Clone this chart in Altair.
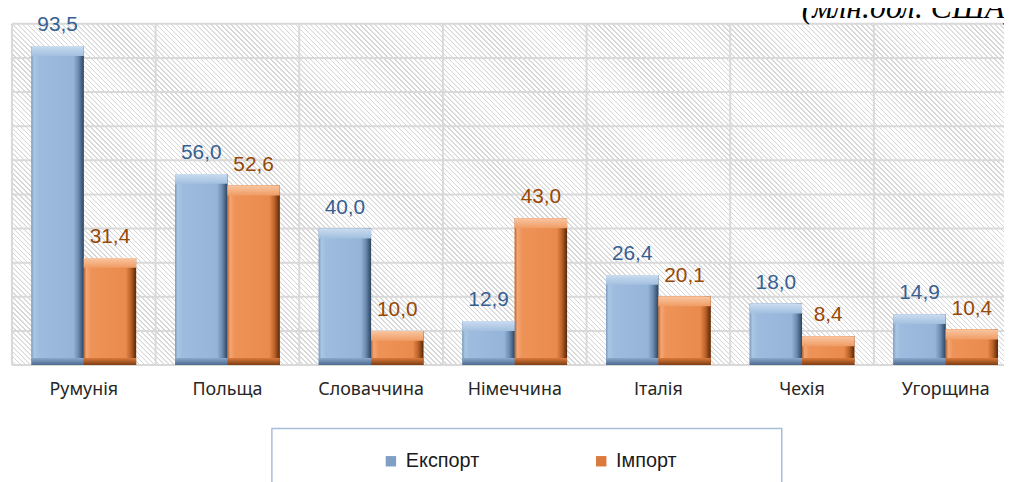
import altair as alt
import pandas as pd

# ---- data ----
countries = ["Румунія", "Польща", "Словаччина", "Німеччина", "Італія", "Чехія", "Угорщина"]
export_vals = [93.5, 56.0, 40.0, 12.9, 26.4, 18.0, 14.9]
import_vals = [31.4, 52.6, 10.0, 43.0, 20.1, 8.4, 10.4]
series = ["Експорт", "Імпорт"]
grid_vals = [0, 10, 20, 30, 40, 50, 60, 70, 80, 90, 100]
unit_note = "(млн.дол. США)"

rows = []
for c, e, i in zip(countries, export_vals, import_vals):
    rows.append({"country": c, "series": series[0], "value": e})
    rows.append({"country": c, "series": series[1], "value": i})
df = pd.DataFrame(rows)
one = pd.DataFrame({"k": [0]})

# ---- styles ----
PW, PH = 1000, 344          # visible plot area
XR = 1013.6                 # x range (last category runs past the window edge)
GRID = "#d9d9d9"

# diagonal hatch for the plot background, built as a striped linear gradient
span = PW + PH
period, stripe = 5.0, 1.5
hstops = []
b = 0.0
while b < span:
    for off, col in [(b, "#ffffff"), (b + period - stripe - 0.4, "#ffffff"),
                     (b + period - stripe, "#d6d6d6"), (b + period - 0.4, "#d6d6d6")]:
        hstops.append({"offset": min(off / span, 1.0), "color": col})
    b += period
k = span / (PW ** 2 + PH ** 2)
hatch_grad = {"gradient": "linear", "x1": 0, "y1": 1, "x2": k * PW, "y2": 1 - k * PH,
              "stops": hstops}


def grad(stops, vertical=False):
    return {"gradient": "linear", "x1": 0, "y1": 0,
            "x2": 0 if vertical else 1, "y2": 1 if vertical else 0,
            "stops": [{"offset": o, "color": c} for o, c in stops]}


blue_grad = grad([(0.0, "#7d9bbf"), (0.05, "#aac6e4"), (0.14, "#9dbcdf"),
                  (0.80, "#95b4d8"), (0.90, "#6a8ab0"), (1.0, "#2c4460")])
orange_grad = grad([(0.0, "#b5652e"), (0.05, "#f4a574"), (0.14, "#ee9358"),
                    (0.80, "#ea8a4d"), (0.90, "#bb6229"), (1.0, "#582808")])
blue_top = grad([(0.0, "#cadcf0"), (1.0, "#a2bfdf")], vertical=True)
orange_top = grad([(0.0, "#f9c6a2"), (1.0, "#f09c64")], vertical=True)
blue_bot = grad([(0.0, "#8aa8cc"), (1.0, "#4d6a8e")], vertical=True)
orange_bot = grad([(0.0, "#d9793b"), (1.0, "#7e3d12")], vertical=True)

xaxis = alt.Axis(title=None, domain=False, ticks=False, grid=False, labelAngle=0,
                 labelFont="Noto Sans", labelFontSize=18, labelColor="#262626",
                 labelPadding=16)
xscale = alt.Scale(range=[0, XR], paddingInner=0, paddingOuter=0, round=False)
yscale = alt.Scale(domain=[0, 100], nice=False, zero=True)

xenc = alt.X("country:N", sort=countries, scale=xscale, axis=xaxis)
yenc = alt.Y("value:Q", scale=yscale, axis=None)
xoff = alt.XOffset("series:N", sort=series,
                   scale=alt.Scale(paddingInner=0, paddingOuter=0.3725, round=False))
is_exp = alt.datum.series == series[0]

hatch = alt.Chart(one).mark_rect(fill=hatch_grad, strokeWidth=0).encode(
    x=alt.value(0), x2=alt.value(PW), y=alt.value(0), y2=alt.value(PH))

hgrid = alt.Chart(pd.DataFrame({"g": grid_vals})).mark_rule(
    color=GRID, strokeWidth=2).encode(y=alt.Y("g:Q", scale=yscale, axis=None))

vgrid = alt.Chart(pd.DataFrame({"country": countries})).mark_rule(
    color=GRID, strokeWidth=2).encode(
    x=alt.X("country:N", sort=countries, bandPosition=0, scale=xscale, axis=xaxis))

base = alt.Chart(df)

bars_legend = base.mark_bar().encode(
    x=xenc, xOffset=xoff, y=yenc,
    color=alt.Color("series:N", sort=series,
                    scale=alt.Scale(domain=series, range=["#7f9fc4", "#dc7a3e"]),
                    legend=alt.Legend(orient="none", legendX=372, legendY=431,
                                      direction="horizontal", columns=2, title=None,
                                      labelFont="Liberation Sans", labelFontSize=20,
                                      labelColor="#1a1a1a", symbolType="square",
                                      symbolSize=110, symbolStrokeWidth=0,
                                      columnPadding=112, labelOffset=5, padding=0)))

bars = base.mark_bar().encode(
    x=xenc, xOffset=xoff, y=yenc,
    fill=alt.condition(is_exp, alt.value(blue_grad), alt.value(orange_grad)))

bevel_top = base.mark_bar(y2Offset=10).encode(
    x=xenc, xOffset=xoff, y=yenc, y2=alt.Y2("value:Q"),
    fill=alt.condition(is_exp, alt.value(blue_top), alt.value(orange_top)))

bevel_bot = base.transform_calculate(zero="0").mark_bar(yOffset=-7).encode(
    x=xenc, xOffset=xoff, y=alt.Y("zero:Q", scale=yscale, axis=None),
    y2=alt.Y2("zero:Q"),
    fill=alt.condition(is_exp, alt.value(blue_bot), alt.value(orange_bot)))

labels = base.transform_calculate(
    label="replace(format(datum.value, '.1f'), '.', ',')"
).mark_text(font="Liberation Sans", fontSize=21, dy=-15, baseline="alphabetic",
            align="center").encode(
    x=xenc, xOffset=xoff, y=yenc, text="label:N",
    fill=alt.condition(is_exp, alt.value("#376092"), alt.value("#984807")))

note = alt.Chart(one).mark_text(
    text=unit_note, font="Liberation Serif", fontStyle="italic", fontSize=32,
    align="left", baseline="alphabetic", color="black").encode(
    x=alt.value(796), y=alt.value(-6))

legend_box = alt.Chart(one).mark_rect(
    fill="white", stroke="#a9bed8", strokeWidth=1.5).encode(
    x=alt.value(262), x2=alt.value(776), y=alt.value(408), y2=alt.value(480))

chart = alt.layer(hatch, hgrid, vgrid, bars_legend, bars, bevel_top, bevel_bot,
                  labels, note, legend_box).properties(
    width=PW, height=PH,
    autosize=alt.AutoSizeParams(type="none"),
    padding={"left": 4, "top": 14, "right": 0, "bottom": 116},
).configure(background="white").configure_view(stroke=None)

chart.save("out.html", embed_options={"renderer": "svg", "actions": False})
